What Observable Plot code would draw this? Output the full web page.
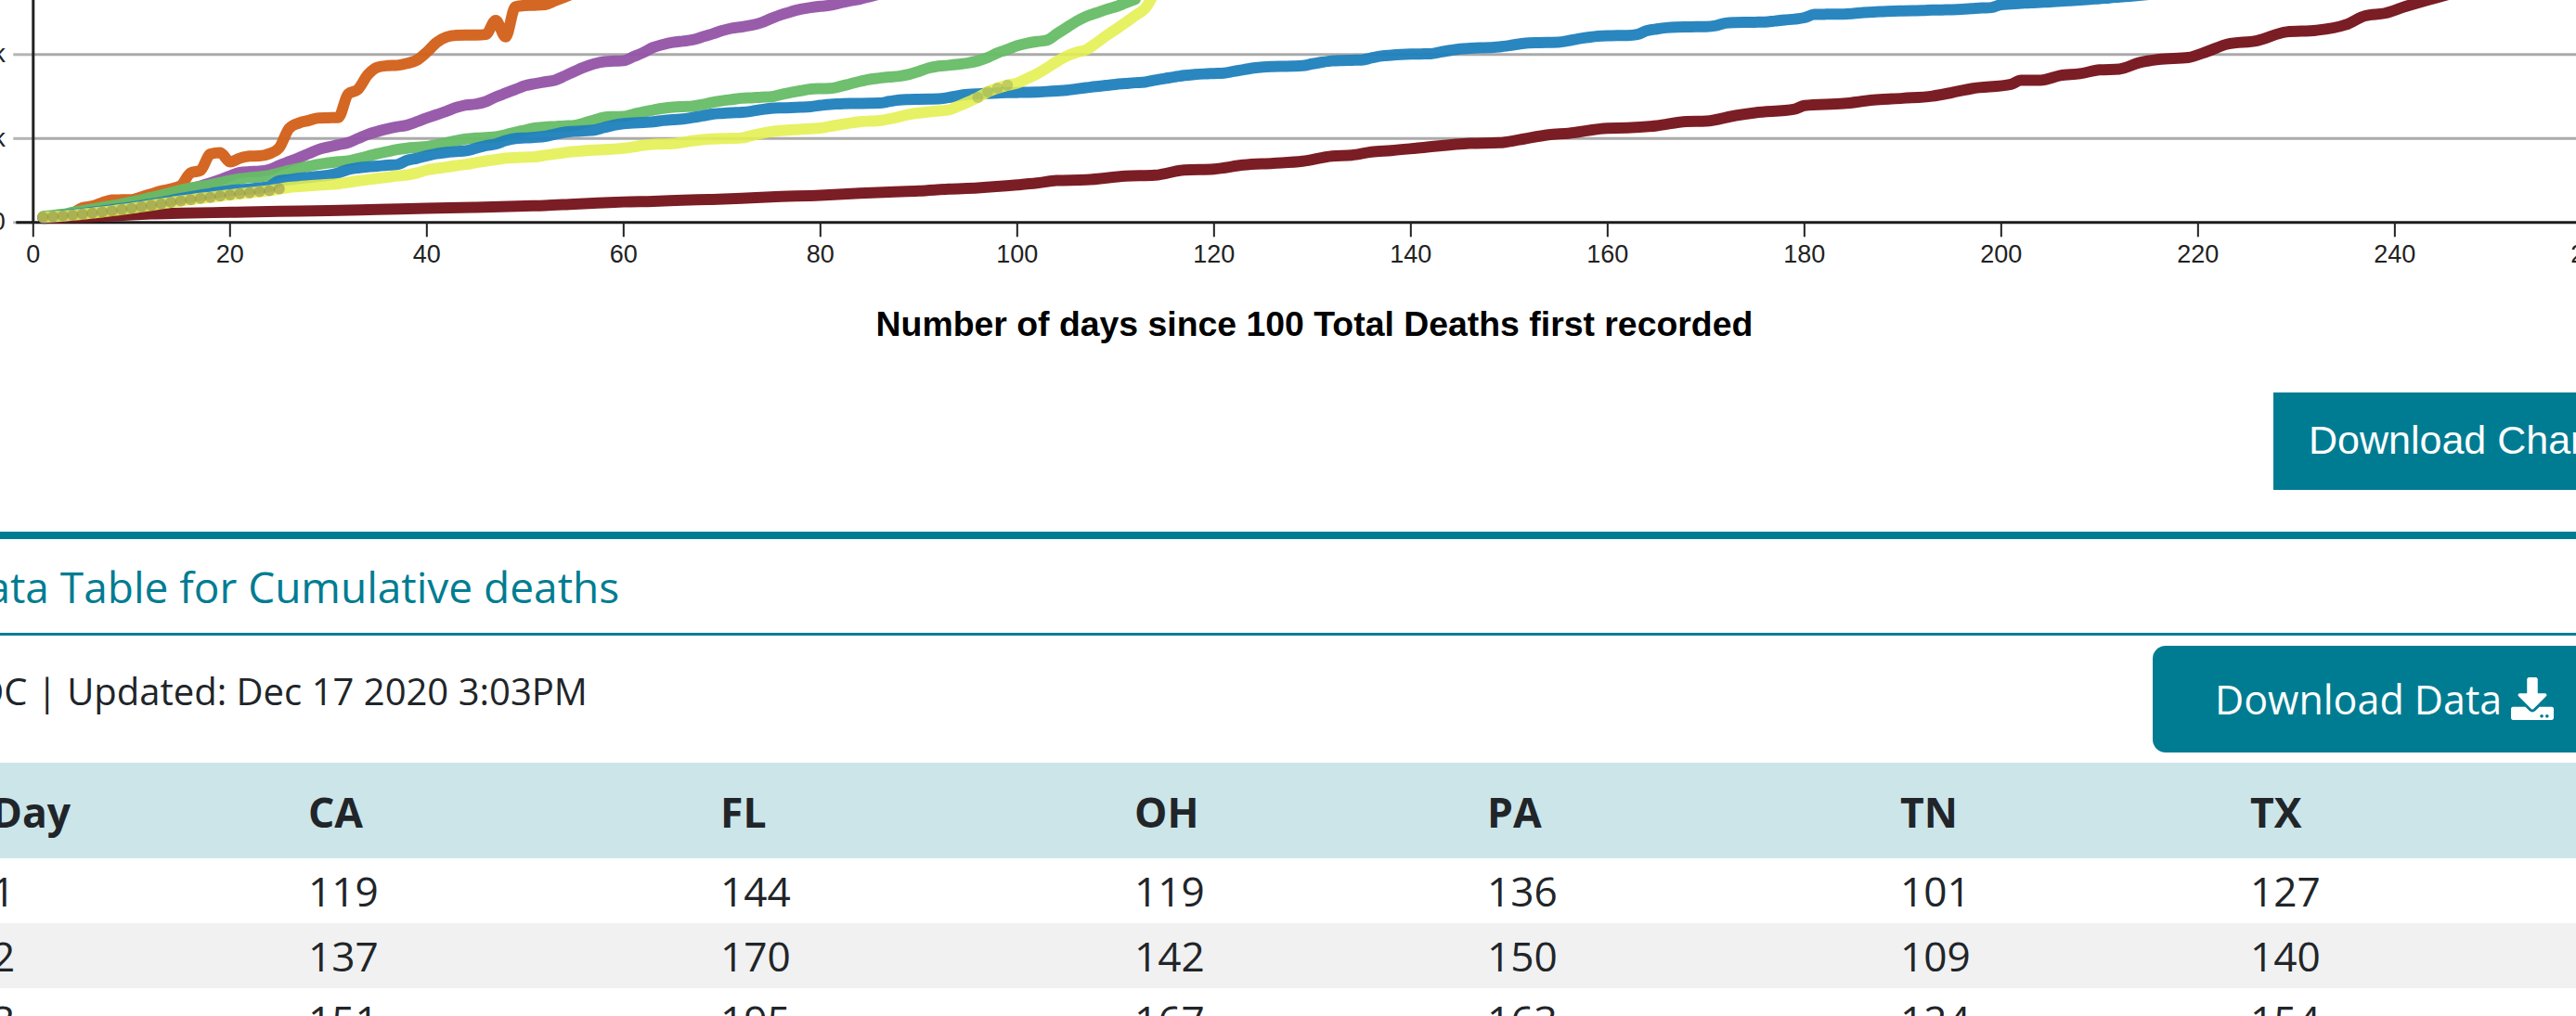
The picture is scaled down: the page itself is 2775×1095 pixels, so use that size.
<!DOCTYPE html>
<html>
<head>
<meta charset="utf-8">
<script src="https://cdn.jsdelivr.net/npm/d3@7"></script>
<script src="https://cdn.jsdelivr.net/npm/@observablehq/plot@0.6"></script>
<style>
html,body{margin:0;padding:0;background:#fff;}
#page{position:relative;width:2775px;height:1095px;overflow:hidden;background:#fff;font-family:"Open Sans",sans-serif;color:#212529;}
#chart{position:absolute;left:0;top:0;width:2775px;height:420px;overflow:hidden;}
.abs{position:absolute;white-space:nowrap;}
</style>
</head>
<body>
<div id="page"><div id="chart"></div></div>
<script>
// Cumulative deaths by day since 100 deaths (daily, day 1 first)
const paDeaths = [136,150,163,230,350,390,470,535,540,545,610,680,750,800,880,1180,1240,1630,1665,1445,1530,1580,1585,1640,1780,2240,2370,2430,2490,2495,2500,3060,3170,3520,3700,3735,3745,3790,3870,4060,4290,4420,4460,4465,4465,4480,4815,4420,5140,5170,5175,5190,5280,5370,5460];
const caDeaths = [119,137,151,185,220,270,320,370,420,480,540,600,650,700,750,810,870,940,1020,1110,1190,1210,1220,1260,1360,1450,1540,1640,1740,1800,1850,1900,2000,2100,2170,2230,2280,2320,2400,2490,2570,2650,2740,2800,2820,2880,2990,3080,3170,3260,3310,3350,3390,3490,3600,3700,3780,3830,3845,3855,3950,4050,4170,4240,4290,4320,4350,4420,4490,4570,4630,4660,4700,4760,4860,4950,5020,5080,5120,5150,5175,5230,5280,5320,5380,5440];
const flDeaths = [144,170,195,240,280,320,360,400,440,490,540,600,650,710,770,820,860,900,950,1000,1040,1070,1090,1120,1180,1240,1290,1340,1385,1420,1450,1465,1520,1580,1640,1690,1740,1770,1790,1810,1850,1900,1950,1990,2010,2025,2040,2090,2150,2200,2250,2275,2285,2300,2310,2370,2440,2505,2520,2525,2580,2636,2680,2720,2747,2760,2769,2810,2860,2900,2930,2960,2970,2985,2995,3050,3100,3140,3180,3190,3195,3240,3300,3360,3410,3440,3465,3485,3530,3600,3680,3725,3745,3770,3800,3850,3930,4040,4120,4210,4270,4310,4340,4490,4640,4790,4910,4990,5070,5140,5230,5320];
const ohDeaths = [119,142,167,190,215,245,275,305,335,365,400,440,480,525,575,610,650,690,725,760,780,800,825,860,995,1020,1050,1075,1100,1125,1180,1260,1300,1325,1345,1365,1380,1480,1530,1590,1640,1670,1690,1710,1770,1830,1870,1950,2000,2015,2030,2050,2105,2150,2170,2185,2200,2260,2320,2355,2370,2385,2400,2430,2450,2465,2500,2540,2580,2600,2615,2625,2650,2690,2720,2730,2735,2745,2760,2790,2815,2825,2835,2838,2840,2845,2885,2920,2930,2935,2940,2945,2975,3020,3050,3065,3075,3085,3095,3098,3100,3105,3120,3135,3150,3180,3210,3240,3265,3290,3310,3330,3345,3390,3430,3470,3505,3525,3540,3550,3560,3600,3640,3680,3705,3715,3720,3725,3735,3780,3820,3850,3860,3865,3870,3920,3965,3985,4000,4010,4015,4020,4060,4100,4135,4150,4160,4165,4185,4215,4250,4280,4285,4290,4295,4330,4375,4410,4440,4450,4452,4455,4480,4570,4610,4640,4655,4660,4662,4665,4690,4750,4765,4770,4772,4775,4800,4825,4845,4880,4955,4960,4962,4965,4980,5000,5015,5025,5035,5040,5045,5050,5060,5065,5070,5080,5095,5110,5120,5190,5205,5220,5235,5245,5255,5270,5285,5300,5315,5335,5350,5370,5390,5410,5430,5450];
const txDeaths = [127,140,154,175,200,225,250,280,310,340,375,410,445,480,515,545,575,600,630,660,685,710,735,760,800,835,855,875,890,905,925,955,990,1020,1050,1080,1110,1135,1180,1250,1290,1320,1355,1385,1425,1465,1500,1530,1545,1555,1565,1600,1635,1665,1690,1710,1725,1735,1750,1770,1800,1840,1865,1870,1880,1910,1945,1975,1990,2000,2005,2015,2070,2120,2165,2190,2205,2220,2235,2250,2290,2330,2370,2400,2415,2425,2470,2520,2575,2610,2635,2660,2680,2770,2870,2980,3110,3200,3270,3320,3430,3540,3680,3830,3960,4050,4115,4270,4440,4600,4760,4930,5100,5500];
// TN read at the days where its line visibly changes slope: [day, deaths]
const tnReadings = [[1,101],[2,109],[3,124],[5,135],[8,160],[10,184],[12,205],[15,221],[20,243],[25,265],[30,285],[35,310],[40,339],[45,360],[50,395],[52,405],[55,440],[58,470],[60,490],[63,505],[66,530],[69,550],[72,575],[75,610],[80,648],[84,695],[87,725],[90,750],[93,795],[96,825],[100,895],[102,940],[104,1000],[107,1016],[111,1105],[114,1127],[117,1251],[120,1273],[123,1370],[126,1410],[129,1459],[132,1582],[134,1604],[136,1680],[138,1715],[141,1780],[146,1885],[149,1900],[151,1970],[154,2090],[156,2125],[160,2245],[162,2254],[165,2305],[168,2405],[170,2415],[173,2548],[175,2614],[179,2700],[180,2785],[184,2835],[187,2917],[190,2960],[193,3010],[195,3095],[197,3189],[201,3290],[202,3388],[204,3388],[206,3500],[208,3545],[210,3635],[212,3655],[214,3805],[216,3885],[219,3930],[221,4080],[223,4250],[226,4332],[229,4540],[232,4578],[235,4710],[237,4925],[239,4985],[241,5140],[244,5340],[248,5600]];
// Days on which the translucent TX markers show over the other lines
const txMarkedEarly = [1,2,3,4,5,6,7,8,9,10,11,12,13,14,15,16,17,18,19,20,21,22,23,24,25];
const txMarkedLate = [96,97,98,99];

const xTicks = [0,20,40,60,80,100,120,140,160,180,200,220,240,260];
const yTicks = [0,2000,4000];
const xTitle = "Number of days since 100 Total Deaths first recorded";

const tableHead = ["Day","CA","FL","OH","PA","TN","TX"];
const tableRows = [
  ["1","119","144","119","136","101","127"],
  ["2","137","170","142","150","109","140"],
  ["3","151","195","167","163","124","154"]
];

const daily = (arr) => arr.map((v,i)=>({day:i+1,deaths:v}));
const STROKE = 12;
const lineOf = (data,color,op=0.95) => Plot.line(data,{x:"day",y:"deaths",stroke:color,strokeWidth:STROKE,strokeOpacity:op,strokeLinejoin:"round",strokeLinecap:"round",curve:"monotone-x"});
const tx = daily(txDeaths);

const plot = Plot.plot({
  width:2900,height:420,
  marginLeft:35.3,marginRight:0,marginTop:0,marginBottom:180.7,
  style:{maxWidth:"none",position:"absolute",left:"0",top:"0",background:"transparent",fontFamily:"'Liberation Sans',Arial,sans-serif",overflow:"hidden",color:"#222"},
  x:{domain:[0,270.25],axis:null},
  y:{domain:[0,5289],axis:null},
  marks:[
    Plot.gridY(yTicks.filter(d=>d>0),{stroke:"#aaa",strokeWidth:3,strokeOpacity:1}),
    Plot.axisY(yTicks,{anchor:"left",tickSize:21,tickPadding:9,stroke:"#b4b4b4",strokeWidth:3,fontSize:27,label:null,tickFormat:d=>d===0?"0":(d/1000)+"k"}),
    Plot.ruleX([0],{stroke:"#222",strokeWidth:3}),
    Plot.ruleY([0],{x1:-1.7,x2:270,stroke:"#1c1c1c",strokeWidth:3}),
    Plot.axisX(xTicks,{anchor:"bottom",tickSize:16,tickPadding:8,stroke:"#222",strokeWidth:2,fontSize:27,label:null,tickFormat:d=>String(d)}),
    Plot.text([xTitle],{x:()=>130.2,frameAnchor:"bottom",dy:122,fontSize:37.4,fontWeight:"bold",fill:"#000"}),
    lineOf(tnReadings.map(([day,deaths])=>({day,deaths})),"#781820",0.98),
    lineOf(daily(caDeaths),"#9453a6"),
    lineOf(daily(paDeaths),"#d25f18"),
    lineOf(daily(flDeaths),"#66bc66"),
    lineOf(daily(ohDeaths),"#1f7fbc"),
    lineOf(tx,"#e4ef4e",0.88),
    Plot.dot(tx.filter(d=>txMarkedEarly.includes(d.day)),{x:"day",y:"deaths",r:6,fill:"#8a8048",fillOpacity:0.5}),
    Plot.dot(tx.filter(d=>txMarkedLate.includes(d.day)),{x:"day",y:"deaths",r:6,fill:"#8a9c58",fillOpacity:0.4})
  ]
});
document.getElementById("chart").appendChild(plot);

// surrounding page furniture
const page = document.getElementById("page");
function box(l,t,w,h,bg,extra){const d=document.createElement("div");d.className="abs";d.style.cssText=`left:${l}px;top:${t}px;width:${w}px;height:${h}px;background:${bg};`+(extra||"");page.appendChild(d);return d;}
function label(txt,l,cy,size,color,extra){const d=document.createElement("div");d.className="abs";d.textContent=txt;d.style.cssText=`left:${l}px;top:${cy-40}px;height:80px;line-height:80px;font-size:${size}px;color:${color};`+(extra||"");page.appendChild(d);return d;}

box(2449,423,340,105,"#007c92");
label("Download Chart",2487,474,43,"#fff","font-family:'Liberation Sans',Arial,sans-serif;");
box(0,573,2775,8,"#007c92");
label("Data Table for Cumulative deaths",-48,632,46,"#007c92");
box(0,682,2775,3,"#007c92");
label("CDC | Updated: Dec 17 2020 3:03PM",-50,745,40,"#212529");
box(2319,696,470,115,"#007c92","border-radius:14px;");
label("Download Data",2386,754,43,"#fff");
const ico=document.createElement("div");ico.className="abs";ico.style.cssText="left:2705px;top:730px;width:46px;height:46px;";
ico.innerHTML='<svg viewBox="0 0 512 512" width="46" height="46"><path fill="#fff" d="M216 0h80c13.3 0 24 10.7 24 24v168h87.7c17.8 0 26.7 21.5 14.1 34.1L269.7 378.3c-7.5 7.5-19.8 7.5-27.3 0L90.1 226.1c-12.6-12.6-3.7-34.1 14.1-34.1H192V24c0-13.3 10.7-24 24-24zm296 376v112c0 13.3-10.7 24-24 24H24c-13.3 0-24-10.7-24-24V376c0-13.3 10.7-24 24-24h146.7l49 49c20.1 20.1 52.5 20.1 72.6 0l49-49H488c13.3 0 24 10.7 24 24zm-124 88c0-11-9-20-20-20s-20 9-20 20 9 20 20 20 20-9 20-20zm64 0c0-11-9-20-20-20s-20 9-20 20 9 20 20 20 20-9 20-20z"/></svg>';
page.appendChild(ico);

box(0,822,2775,103,"#cce5e9");
box(0,995,2775,70,"#f1f1f1");
const colX = [-9,332,776,1222,1602,2047,2424];
tableHead.forEach((h,c)=>{label(h,colX[c],875,44.5,"#212529","font-weight:700;");});
tableRows.forEach((row,r)=>row.forEach((v,c)=>{label(v,colX[c],960+r*69.5,44.2,"#212529");}));
</script>
</body>
</html>
